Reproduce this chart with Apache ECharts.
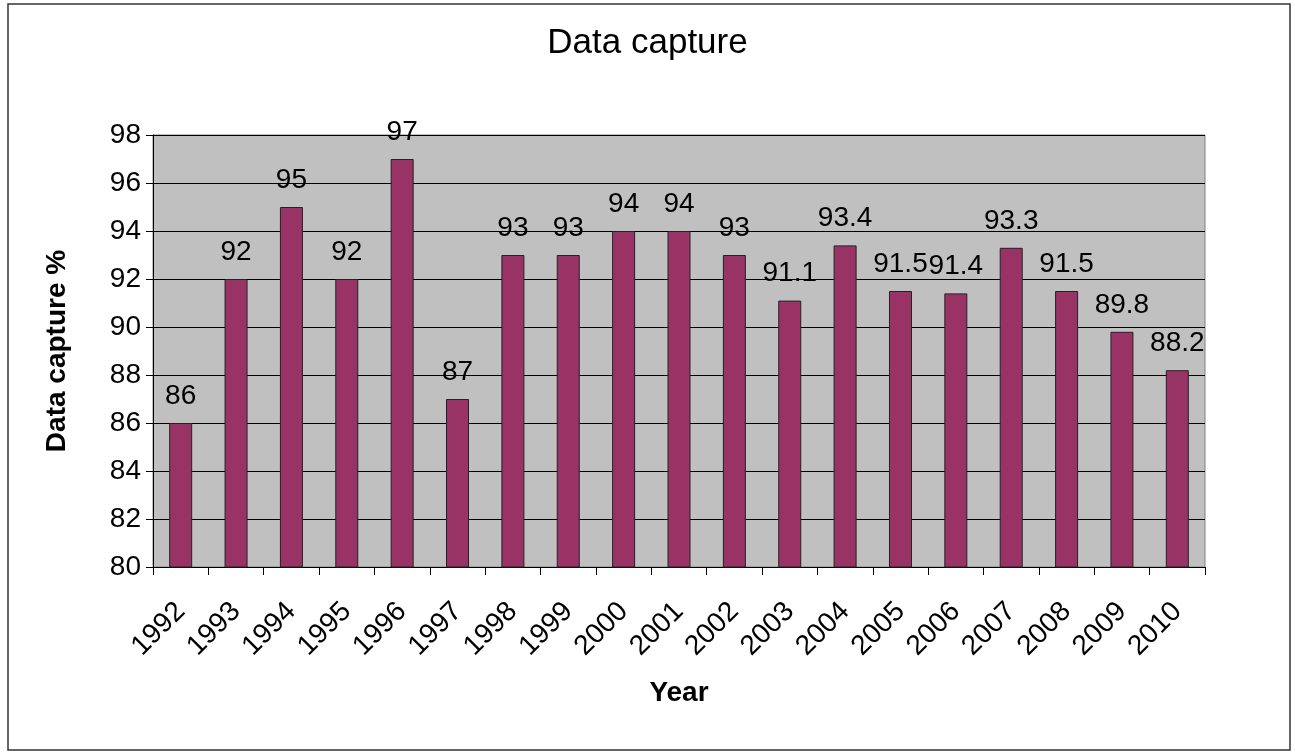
<!DOCTYPE html>
<html>
<head>
<meta charset="utf-8">
<script src="https://cdn.jsdelivr.net/npm/echarts@6/dist/echarts.min.js"></script>
<style>
html,body{margin:0;padding:0;background:#fff;}
#chart{width:1295px;height:754px;}
</style>
</head>
<body>
<div id="chart"></div>
<script>
const years = ['1992','1993','1994','1995','1996','1997','1998','1999','2000','2001','2002','2003','2004','2005','2006','2007','2008','2009','2010'];
const capture = [86, 92, 95, 92, 97, 87, 93, 93, 94, 94, 93, 91.1, 93.4, 91.5, 91.4, 93.3, 91.5, 89.8, 88.2];
const yMin = 80, yMax = 98, yStep = 2;

const FONT = 'Arial, "Liberation Sans", sans-serif';
const chart = echarts.init(document.getElementById('chart'), null, {renderer: 'canvas'});
chart.setOption({
  backgroundColor: '#ffffff',
  animation: false,
  title: {
    text: 'Data capture',
    left: 'center',
    top: 21,
    textStyle: {fontFamily: FONT, fontSize: 35, fontWeight: 'normal', color: '#000'}
  },
  graphic: [{
    type: 'rect',
    shape: {x: 8, y: 4, width: 1282, height: 746},
    style: {fill: 'none', stroke: '#333', lineWidth: 1.5},
    silent: true,
    z: -1
  }],
  grid: {
    left: 153, right: 90, top: 135, bottom: 187,
    show: true,
    backgroundColor: '#c0c0c0',
    borderColor: '#808080',
    borderWidth: 1
  },
  xAxis: {
    type: 'category',
    data: years,
    boundaryGap: true,
    name: 'Year',
    nameLocation: 'middle',
    nameGap: 112,
    nameTextStyle: {fontFamily: FONT, fontSize: 28, fontWeight: 'bold', color: '#000'},
    axisLine: {show: true, lineStyle: {color: '#000', width: 1}},
    axisTick: {show: true, interval: 0, length: 8, lineStyle: {color: '#000'}},
    axisLabel: {interval: 0, rotate: 45, margin: 40, fontFamily: FONT, fontSize: 28, color: '#000'},
    splitLine: {show: false}
  },
  yAxis: {
    type: 'value',
    min: yMin, max: yMax, interval: yStep,
    name: 'Data capture %',
    nameLocation: 'middle',
    nameGap: 82,
    nameTextStyle: {fontFamily: FONT, fontSize: 28, fontWeight: 'bold', color: '#000'},
    axisLine: {show: true, lineStyle: {color: '#000', width: 1}},
    axisTick: {show: true, length: 7, lineStyle: {color: '#000'}},
    axisLabel: {margin: 12, fontFamily: FONT, fontSize: 28, color: '#000'},
    splitLine: {show: true, lineStyle: {color: '#000', width: 1}}
  },
  series: [{
    type: 'bar',
    data: capture,
    barWidth: 23,
    itemStyle: {color: '#993366', borderColor: '#222', borderWidth: 1},
    label: {
      show: true,
      position: 'top',
      distance: 13,
      fontFamily: FONT,
      fontSize: 28,
      color: '#000'
    }
  }]
});
</script>
</body>
</html>
